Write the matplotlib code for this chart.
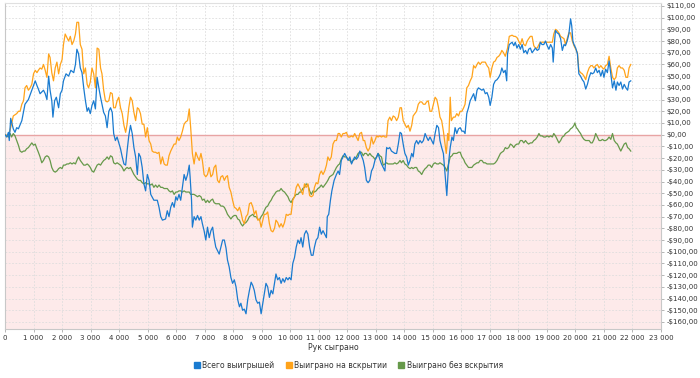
"""График выигрышей по рукам: всего / на вскрытии / без вскрытия."""
import matplotlib

matplotlib.use("Agg")
import matplotlib.pyplot as plt  # noqa: E402
from matplotlib.lines import Line2D  # noqa: E402
from matplotlib.ticker import FuncFormatter, MultipleLocator  # noqa: E402

# ──────────────────────────────────────────────────────────────────
# Данные: руки -> $ 
# ──────────────────────────────────────────────────────────────────

hands_total = [
    0, 60, 120, 150, 200, 290, 350, 410, 470, 590,
    700, 820, 940, 1060, 1120, 1170, 1230, 1350, 1410, 1470,
    1530, 1580, 1640, 1680, 1740, 1800, 1880, 1940, 2000, 2050,
    2140, 2230, 2310, 2410, 2470, 2520, 2580, 2640, 2700, 2760,
    2820, 2880, 2930, 2990, 3050, 3110, 3170, 3230, 3290, 3350,
    3400, 3460, 3520, 3580, 3640, 3700, 3760, 3810, 3870, 3930,
    3990, 4050, 4110, 4170, 4230, 4280, 4340,
    4400, 4460, 4520, 4580, 4640, 4690, 4750, 4810, 4870, 4930,
    4990, 5050, 5110, 5220, 5340, 5400, 5460, 5520, 5630, 5690,
    5750, 5810, 5870, 5930, 5990, 6040, 6100, 6160, 6220, 6280,
    6340, 6400, 6460, 6490, 6540, 6570, 6630, 6690, 6750, 6810,
    6870, 6920, 6980, 7040, 7100, 7160, 7220, 7280, 7330, 7390,
    7450, 7510, 7570, 7630, 7690, 7750, 7800, 7860, 7920, 7980,
    8040, 8100, 8160, 8220, 8270, 8330, 8390, 8450, 8510, 8570,
    8630, 8690, 8740, 8800,
    8860, 8920, 8980, 9040, 9090, 9150, 9210, 9270, 9330, 9390,
    9450, 9500, 9560, 9620, 9680, 9740, 9800, 9860, 9920, 9970,
    10030, 10090, 10150, 10210, 10270, 10330, 10380, 10440, 10500, 10560,
    10620, 10680, 10740, 10800, 10850, 10910, 10970, 11030, 11090, 11150,
    11210, 11270, 11300, 11350, 11410, 11460, 11540, 11620, 11680, 11730,
    11790, 11850, 11910, 11970, 12030, 12090, 12150, 12200, 12260, 12320,
    12380, 12440, 12500, 12560, 12610, 12670, 12730, 12790, 12850, 12910,
    12970, 13030, 13080, 13140, 13200,
    13260, 13320, 13380, 13430, 13490, 13550, 13610, 13670, 13730, 13790,
    13850, 13900, 13960, 14020, 14080, 14140, 14200, 14260, 14310, 14370,
    14430, 14490, 14550, 14610, 14670, 14730, 14780, 14840, 14900, 14960,
    15020, 15080, 15140, 15200, 15250, 15310, 15370, 15430, 15470, 15490,
    15520, 15560, 15610, 15670, 15720, 15780, 15840, 15900, 15960, 16020,
    16080, 16130, 16190, 16250, 16310, 16370, 16430, 16490, 16550, 16600,
    16660, 16720, 16780, 16840, 16900, 16960, 17010, 17070, 17130, 17190,
    17250, 17310, 17370, 17420, 17480, 17540,
    17590, 17620, 17680, 17780, 17840, 17890, 17950, 18010, 18070, 18130,
    18190, 18250, 18310, 18360, 18420, 18480, 18540, 18600, 18660, 18720,
    18770, 18830, 18890, 18950, 19010, 19070, 19130, 19190, 19220, 19270,
    19300, 19360, 19420, 19480, 19540, 19600, 19650, 19710, 19770, 19830,
    19870, 19910, 19950, 20010, 20070, 20120, 20180, 20240, 20300, 20360,
    20420, 20480, 20540, 20590, 20650, 20710, 20770, 20830, 20890, 20950,
    21000, 21060, 21120, 21180, 21240, 21300, 21360, 21420, 21470, 21530,
    21590, 21650, 21710, 21770, 21830, 21880, 21940,
]
total_won = [
    0, -2, 2, -5, 14, 5, 2, 6, 5, 12,
    26, 30, 38, 46, 42, 39, 35, 38, 35, 30,
    50, 38, 29, 15, 29, 32, 23, 35, 38, 46,
    52, 50, 55, 53, 60, 73, 69, 57, 53, 40,
    29, 20, 23, 18, 25, 29, 22, 49, 40, 32,
    26, 19, 16, 6, 20, 23, 19, 1, -5, -2,
    -7, -12, -19, -25, -26, -14, -1,
    8, 1, -11, -19, -34, -16, -19, -28, -42, -48,
    -34, -39, -51, -56, -56, -62, -70, -73, -72, -65,
    -70, -62, -58, -62, -53, -56, -51, -56, -45, -34,
    -39, -34, -26, -36, -56, -79, -70, -73, -69, -73,
    -70, -76, -82, -90, -79, -88, -82, -79, -88, -96,
    -99, -102, -96, -90, -90, -97, -107, -113, -122, -127,
    -124, -130, -141, -147, -144, -150, -149, -153, -141, -133,
    -126, -129, -133, -141,
    -144, -143, -153, -144, -136, -127, -130, -139, -133, -136,
    -127, -119, -124, -122, -127, -123, -126, -122, -124, -122,
    -124, -110, -105, -96, -90, -93, -88, -96, -85, -82,
    -85, -96, -103, -103, -96, -90, -88, -79, -85, -82,
    -85, -88, -70, -68, -56, -48, -39, -34, -31, -34,
    -22, -19, -16, -19, -22, -19, -25, -22, -19, -21,
    -19, -14, -18, -22, -28, -39, -41, -39, -31, -28,
    -22, -19, -16, -21, -25,
    -28, -31, -11, -12, -11, -14, -15, -16, -16, -8,
    2, 1, -8, -16, -19, -26, -22, -16, -19, -8,
    -5, -8, -5, -7, -5, 1, -2, -5, -2, -5,
    -8, 1, 8, 6, -5, -11, -16, -34, -45, -52,
    -39, -22, -11, -2, -5, 6, 1, 5, 6, 3,
    3, 1, 18, 23, 29, 32, 35, 29, 38, 40,
    39, 38, 39, 35, 36, 32, 25, 32, 43, 46,
    47, 49, 52, 57, 53, 55,
    46, 69, 77, 79, 76, 79, 74, 77, 73, 77,
    70, 72, 69, 73, 74, 70, 72, 74, 72, 73,
    79, 77, 77, 80, 76, 73, 77, 74, 62, 80,
    89, 87, 86, 82, 72, 77, 76, 80, 86, 99,
    93, 80, 77, 74, 69, 52, 50, 47, 45, 39,
    43, 49, 53, 52, 53, 57, 53, 55, 50, 55,
    49, 56, 53, 63, 52, 40, 46, 38, 45, 42,
    45, 39, 43, 40, 38, 45, 46,
]

hands_sd = [
    0, 120, 230, 290, 410, 470, 530, 590, 650, 700,
    760, 820, 880, 940, 1000, 1060, 1120, 1170, 1230, 1290,
    1350, 1410, 1470, 1530, 1580, 1640, 1700, 1760, 1820, 1880,
    1940, 2000, 2050, 2110, 2170, 2230, 2290, 2350, 2410, 2470,
    2520, 2580, 2640, 2700, 2760, 2820, 2880, 2930, 2990, 3050,
    3110, 3170, 3230, 3290, 3350, 3400, 3460, 3520, 3580, 3640,
    3700, 3760, 3810, 3870, 3930, 3990, 4050, 4110, 4170, 4230,
    4280, 4340,
    4400, 4460, 4520, 4580, 4640, 4690, 4750, 4810, 4870, 4930,
    4990, 5050, 5110, 5160, 5220, 5280, 5340, 5400, 5460, 5520,
    5580, 5630, 5690, 5750, 5810, 5870, 5930, 5990, 6040, 6100,
    6160, 6220, 6280, 6340, 6400, 6460, 6510, 6570, 6630, 6690,
    6750, 6810, 6870, 6920, 6980, 7040, 7100, 7160, 7220, 7280,
    7330, 7390, 7450, 7510, 7570, 7630, 7690, 7750, 7800, 7860,
    7920, 7980, 8040, 8100, 8160, 8220, 8270, 8330, 8390, 8450,
    8510, 8570, 8630, 8690, 8740, 8800,
    8860, 8920, 8980, 9040, 9090, 9150, 9210, 9270, 9330, 9390,
    9450, 9500, 9560, 9620, 9680, 9740, 9800, 9860, 9920, 9970,
    10030, 10090, 10150, 10210, 10270, 10330, 10380, 10440, 10500, 10560,
    10620, 10680, 10740, 10800, 10850, 10910, 10970, 11030, 11090, 11150,
    11210, 11270, 11320, 11380, 11440, 11500, 11560, 11620, 11680, 11730,
    11790, 11850, 11910, 11970, 12030, 12090, 12150, 12200, 12260, 12320,
    12380, 12440, 12500, 12560, 12610, 12670, 12730, 12790, 12850, 12910,
    12970, 13030, 13080, 13140, 13200,
    13260, 13320, 13380, 13430, 13490, 13550, 13610, 13670, 13730, 13790,
    13850, 13900, 13960, 14020, 14080, 14140, 14200, 14260, 14310, 14370,
    14430, 14490, 14550, 14610, 14670, 14730, 14780, 14840, 14900, 14960,
    15020, 15080, 15140, 15200, 15250, 15310, 15370, 15430, 15470, 15490,
    15520, 15560, 15610, 15650, 15720, 15780, 15840, 15900, 15960, 16020,
    16080, 16130, 16190, 16250, 16310, 16370, 16430, 16490, 16550, 16600,
    16660, 16720, 16780, 16840, 16900, 16960, 17010, 17070, 17130, 17190,
    17250, 17310, 17370, 17420, 17480, 17540,
    17620, 17680, 17780, 17840, 17890, 17950, 18010, 18070, 18130, 18190,
    18250, 18310, 18360, 18420, 18480, 18540, 18600, 18660, 18720, 18770,
    18830, 18950, 19070, 19190, 19240, 19300, 19360, 19420, 19480, 19540,
    19600, 19650, 19710, 19770, 19830, 19890, 19950, 20010, 20070, 20120,
    20180, 20240, 20300, 20360, 20420, 20480, 20540, 20590, 20650, 20710,
    20770, 20830, 20890, 20950, 21000, 21060, 21120, 21180, 21240, 21300,
    21360, 21420, 21470, 21530, 21590, 21650, 21710, 21770, 21830, 21880,
    21940,
]
showdown_won = [
    0, -1, 9, 16, 18, 20, 20, 26, 29, 40,
    42, 38, 40, 43, 52, 55, 53, 55, 57, 56,
    60, 55, 49, 69, 66, 53, 46, 57, 62, 52,
    60, 64, 77, 86, 83, 80, 84, 77, 80, 86,
    96, 96, 77, 73, 52, 57, 43, 40, 45, 57,
    52, 40, 74, 73, 57, 52, 38, 29, 28, 29,
    36, 35, 23, 23, 29, 32, 23, 18, 8, 2,
    9, 23,
    32, 29, 19, 12, 23, 22, 18, 9, 9, -2,
    6, -5, -8, -14, -15, -15, -16, -15, -25, -19,
    -25, -26, -26, -18, -14, -11, -8, -8, -2, -5,
    -2, 3, 9, 11, 12, 22, 6, -16, -25, -15,
    -19, -22, -16, -22, -34, -36, -34, -28, -36, -34,
    -28, -26, -39, -41, -36, -35, -39, -36, -35, -45,
    -49, -56, -62, -63, -65, -62, -66, -73, -76, -70,
    -68, -59, -58, -62, -68, -65,
    -73, -72, -79, -73, -68, -68, -66, -76, -82, -83,
    -80, -73, -75, -79, -76, -79, -75, -68, -69, -68,
    -68, -56, -53, -45, -42, -45, -48, -51, -42, -45,
    -42, -52, -53, -52, -45, -41, -42, -34, -31, -34,
    -31, -26, -19, -22, -19, -8, -5, -5, 1, 1,
    -2, 1, 1, 2, -2, -2, -1, -2, 1, -2,
    -5, 1, 2, -5, -5, -11, -14, -11, -2, -8,
    -5, -1, -2, -1, -2,
    -1, -2, -2, 12, 15, 12, 16, 15, 12, 15,
    23, 23, 12, 9, 6, 8, 3, 8, 16, 18,
    20, 26, 28, 28, 26, 26, 28, 29, 20, 20,
    26, 32, 30, 23, 15, 12, 3, -8, -16, -11,
    1, -5, 32, 12, 15, 15, 18, 16, 20, 20,
    23, 26, 40, 42, 46, 49, 59, 57, 60, 62,
    60, 62, 62, 62, 59, 57, 49, 57, 62, 63,
    66, 67, 69, 72, 70, 67,
    74, 84, 85, 84, 84, 83, 80, 77, 82, 77,
    76, 80, 82, 84, 84, 76, 74, 74, 77, 79,
    79, 79, 79, 79, 86, 90, 89, 87, 84, 83,
    82, 77, 82, 87, 87, 80, 76, 73, 70, 55,
    53, 52, 50, 47, 53, 57, 59, 59, 57, 59,
    60, 57, 59, 57, 56, 59, 60, 67, 57, 49,
    47, 49, 57, 59, 57, 57, 55, 49, 49, 57,
    60,
]

hands_nsd = [
    0, 120, 180, 230, 290, 350, 410, 470, 530, 590,
    650, 700, 760, 820, 880, 940, 1000, 1060, 1120, 1170,
    1230, 1290, 1350, 1410, 1470, 1530, 1580, 1640, 1700, 1760,
    1820, 1880, 1940, 2000, 2050, 2110, 2170, 2230, 2290, 2350,
    2410, 2470, 2520, 2580, 2640, 2700, 2760, 2820, 2880, 2930,
    2990, 3050, 3110, 3170, 3230, 3290, 3350, 3400, 3460, 3520,
    3580, 3640, 3700, 3760, 3810, 3870, 3930, 3990, 4050, 4110,
    4170, 4230, 4280, 4340,
    4400, 4460, 4520, 4580, 4640, 4690, 4750, 4810, 4870, 4930,
    4990, 5050, 5110, 5160, 5220, 5280, 5340, 5400, 5460, 5520,
    5580, 5630, 5690, 5750, 5810, 5870, 5930, 5990, 6040, 6100,
    6160, 6220, 6280, 6340, 6400, 6460, 6510, 6570, 6630, 6690,
    6750, 6810, 6870, 6920, 6980, 7040, 7100, 7160, 7220, 7280,
    7330, 7390, 7450, 7510, 7570, 7630, 7690, 7750, 7800, 7860,
    7920, 7980, 8040, 8100, 8160, 8220, 8270, 8330, 8390, 8450,
    8510, 8570, 8630, 8690, 8740, 8800,
    8860, 8920, 8980, 9040, 9090, 9150, 9210, 9270, 9330, 9390,
    9450, 9500, 9560, 9620, 9680, 9740, 9800, 9860, 9920, 9970,
    10030, 10090, 10150, 10210, 10270, 10330, 10380, 10440, 10500, 10560,
    10620, 10680, 10740, 10800, 10850, 10910, 10970, 11030, 11090, 11150,
    11210, 11270, 11320, 11380, 11440, 11500, 11560, 11620, 11680, 11730,
    11790, 11850, 11910, 11970, 12030, 12090, 12150, 12200, 12260, 12320,
    12380, 12440, 12500, 12560, 12610, 12670, 12730, 12790, 12850, 12910,
    12970, 13030, 13080, 13140, 13200,
    13260, 13320, 13380, 13430, 13490, 13550, 13610, 13670, 13730, 13790,
    13850, 13900, 13960, 14020, 14080, 14140, 14200, 14260, 14310, 14370,
    14430, 14490, 14550, 14610, 14670, 14730, 14780, 14840, 14900, 14960,
    15020, 15080, 15140, 15200, 15250, 15310, 15370, 15430, 15490, 15550,
    15610, 15670, 15720, 15780, 15840, 15900, 15960, 16020, 16080, 16130,
    16190, 16250, 16310, 16370, 16430, 16490, 16550, 16600, 16660, 16720,
    16780, 16840, 16900, 16960, 17010, 17070, 17130, 17190, 17250, 17310,
    17370, 17420, 17480, 17540,
    17600, 17660, 17720, 17780, 17840, 17890, 17950, 18010, 18070, 18130,
    18190, 18250, 18310, 18360, 18420, 18480, 18540, 18600, 18660, 18720,
    18770, 18830, 18890, 18950, 19010, 19070, 19130, 19190, 19240, 19300,
    19360, 19420, 19480, 19540, 19600, 19650, 19710, 19770, 19830, 19890,
    19950, 19980, 20030, 20070, 20120, 20180, 20240, 20300, 20360, 20420,
    20480, 20540, 20590, 20650, 20710, 20770, 20830, 20890, 20950, 21000,
    21060, 21120, 21180, 21240, 21300, 21360, 21420, 21470, 21530, 21590,
    21650, 21710, 21770, 21830, 21880, 21940,
]
no_showdown_won = [
    0, -2, 1, -2, 1, -1, -5, -9, -14, -15,
    -14, -14, -12, -11, -9, -7, -9, -8, -12, -15,
    -19, -24, -22, -19, -18, -19, -22, -28, -31, -32,
    -31, -29, -28, -29, -26, -26, -25, -25, -24, -25,
    -24, -25, -22, -19, -22, -24, -26, -26, -25, -26,
    -28, -31, -32, -29, -26, -25, -26, -24, -22, -21,
    -19, -21, -18, -19, -24, -25, -24, -25, -26, -28,
    -31, -29, -28, -29,
    -28, -31, -34, -36, -38, -39, -39, -41, -42, -41,
    -42, -42, -43, -42, -45, -43, -45, -43, -45, -45,
    -46, -46, -46, -48, -49, -48, -51, -49, -49, -48,
    -48, -49, -48, -49, -49, -49, -51, -51, -51, -52,
    -53, -52, -53, -56, -55, -58, -56, -58, -56, -55,
    -58, -59, -59, -59, -61, -61, -62, -65, -68, -70,
    -72, -70, -69, -69, -72, -73, -76, -78, -76, -75,
    -73, -70, -69, -68, -70, -70,
    -72, -73, -70, -68, -65, -62, -61, -58, -56, -53,
    -51, -49, -48, -48, -46, -48, -49, -51, -53, -56,
    -58, -55, -53, -51, -51, -49, -49, -46, -45, -42,
    -43, -48, -51, -48, -49, -48, -46, -45, -43, -45,
    -43, -41, -39, -36, -35, -34, -31, -28, -26, -25,
    -21, -18, -19, -19, -21, -22, -24, -22, -21, -19,
    -16, -15, -15, -18, -16, -16, -18, -16, -18, -19,
    -21, -19, -16, -18, -19,
    -26, -25, -24, -25, -25, -25, -25, -24, -25, -24,
    -22, -24, -22, -25, -26, -28, -29, -28, -29, -28,
    -28, -31, -32, -34, -31, -29, -28, -26, -26, -28,
    -25, -24, -25, -25, -24, -25, -26, -28, -31, -25,
    -19, -18, -16, -16, -16, -15, -15, -19, -21, -24,
    -26, -28, -28, -28, -26, -25, -24, -24, -22, -22,
    -24, -24, -25, -25, -25, -25, -25, -24, -22, -19,
    -16, -15, -14, -11,
    -12, -11, -8, -9, -11, -9, -8, -8, -5, -5,
    -7, -5, -7, -8, -7, -7, -5, -4, -2, 1,
    -1, -1, -2, -2, -1, -2, -1, -2, 1, -1,
    -4, -7, -5, -2, -1, 1, 2, 3, 5, 6,
    8, 10, 6, 5, 3, 1, -2, -4, -5, -5,
    -5, -7, -7, -4, 1, -2, -5, -5, -4, -5,
    -5, -4, -2, -4, 1, -5, -7, -8, -11, -14,
    -11, -8, -7, -11, -12, -14,
]

series_labels = ["Всего выигрышей", "Выиграно на вскрытии", "Выиграно без вскрытия"]
series_colors = ["#1a7bd0", "#ffa31a", "#66994a"]

X_MAX = 23000
Y_MIN, Y_MAX = -166, 112.5


def fmt_money(v, _pos):
    s = f"{abs(v):.2f}".replace(".", ",")
    return f"-${s}" if v < -1e-9 else f"${s}"


def fmt_hands(v, _pos):
    return f"{int(round(v)):,}".replace(",", " ")


fig = plt.figure(figsize=(7.0, 3.78), dpi=100)
ax = fig.add_axes([5 / 700, 1 - 329 / 378, 656 / 700, 326 / 378])

# розовая зона убытка + линия нуля
ax.axhspan(Y_MIN, 0, color="#fdeaea", zorder=0, lw=0)
ax.axhline(0, color="#e8a4a4", lw=1.0, zorder=1)

ax.plot(hands_nsd, no_showdown_won, color=series_colors[2], lw=0.9, zorder=2)
ax.plot(hands_sd, showdown_won, color=series_colors[1], lw=0.9, zorder=3)
ax.plot(hands_total, total_won, color=series_colors[0], lw=0.9, zorder=4)

ax.set_xlim(0, X_MAX)
ax.set_ylim(Y_MIN, Y_MAX)
ax.xaxis.set_major_locator(MultipleLocator(1000))
ax.yaxis.set_major_locator(MultipleLocator(10))
ax.xaxis.set_major_formatter(FuncFormatter(fmt_hands))
ax.yaxis.set_major_formatter(FuncFormatter(fmt_money))
ax.yaxis.tick_right()

ax.set_axisbelow(True)
ax.grid(True, color="#dddddd", lw=0.6, linestyle=(0, (2, 2)))
for side, sp in ax.spines.items():
    sp.set_color("#c8c8c8" if side != "top" else "#e0e0e0")
    sp.set_linewidth(0.8)

ax.tick_params(axis="both", length=2.5, width=0.6, color="#aaaaaa",
               labelsize=5, labelcolor="#333333", pad=1.5)
ax.set_xlabel("Рук сыграно", fontsize=5.6, color="#333333", labelpad=2)

handles = [Line2D([], [], marker="s", linestyle="none", markersize=5, color=c)
           for c in series_colors]
fig.legend(handles, series_labels, loc="center", bbox_to_anchor=(0.497, 1 - 365 / 378),
           ncol=3, frameon=False, fontsize=5.5, handletextpad=0.2, columnspacing=1.4,
           handlelength=1.0, labelcolor="#333333")

fig.savefig("out.png", dpi=100)
plt.close(fig)
